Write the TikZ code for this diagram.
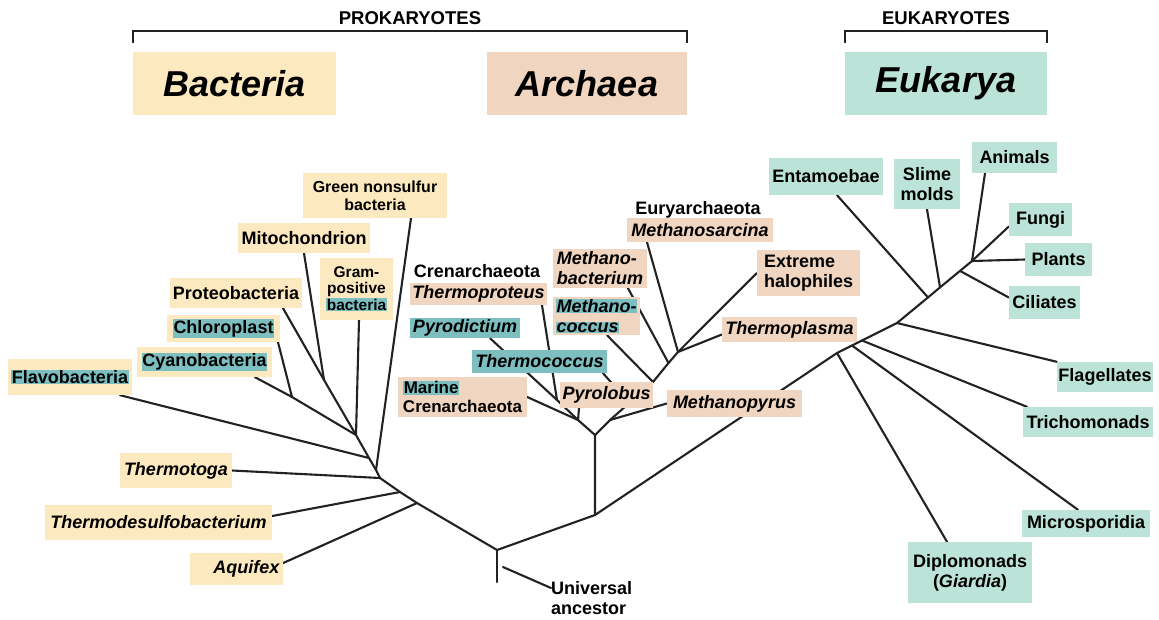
\documentclass[tikz,border=0pt]{standalone}
\usepackage{fontspec}
\setmainfont{Liberation Sans}
\usetikzlibrary{calc}
\definecolor{bacY}{HTML}{FDE9BF}
\definecolor{arcT}{HTML}{F0D5C0}
\definecolor{eukT}{HTML}{BCE3D8}
\definecolor{hlT}{HTML}{7DBFC0}
\definecolor{brc}{HTML}{222222}
\newcommand\hlt[1]{{\setlength{\fboxsep}{0.8pt}\colorbox{hlT}{#1}}}
\pgfdeclarelayer{bg}
\pgfsetlayers{bg,main}
\begin{document}
\begin{tikzpicture}[x=1pt,y=-1pt,
  lbl/.style={font=\bfseries\fontsize{18}{20}\selectfont, inner sep=0pt, align=center, text=black},
  lblit/.style={lbl, font=\bfseries\itshape\fontsize{18}{20}\selectfont},
  small/.style={font=\bfseries\fontsize{16}{18}\selectfont},
  bac/.style={fill=bacY},
  arc/.style={fill=arcT},
  euk/.style={fill=eukT},
  hlbox/.style={fill=hlT},
  bx/.style 2 args={minimum width=#1, minimum height=#2},
  br/.style={draw=brc, line width=2.1pt, line cap=round, line join=round},
  brk/.style={draw=brc, line width=1.6pt},
  head/.style={font=\bfseries\fontsize{18.5}{20}\selectfont, inner sep=0pt},
  title/.style={font=\bfseries\itshape\fontsize{36}{40}\selectfont, inner sep=0pt}
]
\useasboundingbox (0,0) rectangle (1159,619);

% ---------- header ----------
\node[head] (prok) at (410,18) {PROKARYOTES};
\node[head] (eukh) at (946,18) {EUKARYOTES};
\node[title, bac, bx={203}{63}] (tbac) at (234.5,83.5) {Bacteria};
\node[title, arc, bx={200}{63}] (tarc) at (587,83.5) {Archaea};
\node[title, euk, bx={202}{63}] (teuk) at (946,83.5) {Eukarya};
\draw[brk] ($(tbac.north west)+(0,-9)$) -- ++(0,-12) -| ($(tarc.north east)+(0,-9)$);
\draw[brk] ($(teuk.north west)+(0,-9)$) -- ++(0,-12) -| ($(teuk.north east)+(0,-9)$);

% ---------- bacteria ----------
\node[lbl, small, bac, bx={144}{45}] (gns) at (375,195.5) {Green nonsulfur\\bacteria};
\node[lbl, bac, bx={132}{30}] (mito) at (304,238) {Mitochondrion};
\node[lbl, font=\bfseries\fontsize{15.5}{16.5}\selectfont, bac, bx={73}{62}] (gram) at (356.5,289) {Gram-\\positive\\\hlt{bacteria}};
\node[lbl, bac, bx={132}{30}] (proteo) at (236,293) {Proteobacteria};
\node[lbl, bac, bx={113}{27}] (chloro) at (223.5,328.5) {\hlt{Chloroplast}};
\node[lbl, bac, bx={135}{30}] (cyano) at (204.5,362) {\hlt{Cyanobacteria}};
\node[lbl, bac, bx={124}{36}] (flavo) at (70,377) {\hlt{Flavobacteria}};
\node[lblit, bac, bx={112}{35}] (tmtoga) at (176,470.5) {Thermotoga};
\node[lblit, bac, bx={227}{35}] (tdesulfo) at (158.5,522.5) {Thermodesulfobacterium};
\node[lblit, bac, bx={93}{32}, text width=86, align=right] (aquifex) at (236.5,569) {Aquifex};

% ---------- archaea ----------
\node[lbl] (eury) at (698,210) {Euryarchaeota};
\node[lblit, arc, bx={146}{24}] (msarc) at (700,230) {Methanosarcina};
\node[lblit, arc, bx={94}{39}, align=left] (mbact) at (600,268.5) {Methano-\\bacterium};
\node[lblit, arc, bx={87}{38}, align=left] (mcoc) at (596.5,316) {\hlt{Methano-}\\\hlt{coccus}};
\node[lbl, arc, bx={103}{46}, align=left] (halo) at (808.5,273) {Extreme\\halophiles};
\node[lblit, arc, bx={135}{25}] (tplasma) at (789.5,329.5) {Thermoplasma};
\node[lblit, arc, bx={135}{27}] (mpyrus) at (734.5,403.5) {Methanopyrus};
\node[lblit, arc, bx={93}{26}] (pyrolobus) at (606.5,395) {Pyrolobus};
\node[lblit, hlbox, bx={135}{23}] (tcoccus) at (539.5,361.5) {Thermococcus};
\node[lbl, font=\bfseries\fontsize{17}{19}\selectfont, arc, bx={129}{40}, align=left] (marine) at (462.5,397) {\hlt{Marine}\\Crenarchaeota};
\node[lbl] (cren) at (477,271) {Crenarchaeota};
\node[lblit, arc, bx={137}{22}] (tproteus) at (478.5,294) {Thermoproteus};
\node[lblit, hlbox, bx={110}{20}] (pyrod) at (465,328) {Pyrodictium};

% ---------- eukarya ----------
\node[lbl, euk, bx={114}{37}] (entam) at (826,176.5) {Entamoebae};
\node[lbl, euk, bx={66}{50}] (slime) at (927,184) {Slime\\molds};
\node[lbl, euk, bx={85}{31}] (animals) at (1014.5,157.5) {Animals};
\node[lbl, euk, bx={63}{33}] (fungi) at (1040.5,219.5) {Fungi};
\node[lbl, euk, bx={67}{33}] (plants) at (1058.5,259.5) {Plants};
\node[lbl, euk, bx={71}{33}] (ciliates) at (1044.5,302.5) {Ciliates};
\node[lbl, euk, bx={96}{30}] (flag) at (1105,377) {Flagellates};
\node[lbl, euk, bx={130}{30}] (trich) at (1088,422) {Trichomonads};
\node[lbl, euk, bx={128}{27}] (micro) at (1086,523.5) {Microsporidia};
\node[lbl, euk, bx={124}{61}] (diplo) at (970,572.5) {Diplomonads\\(\textit{Giardia})};

% ---------- root ----------
\node[lbl, align=left, anchor=west] (ua) at (551,598) {Universal\\ancestor};

% ---------- junctions ----------
\coordinate (R) at (497,550);
\coordinate (R2) at (497,582);
\coordinate (uas) at (503,567);
% bacteria
\coordinate (K1) at (324,380);
\coordinate (K2) at (292,397);
\coordinate (A) at (356,435);
\coordinate (B) at (369,458);
\coordinate (C) at (376,470);
\coordinate (D) at (380,478);
\coordinate (E) at (400,492);
\coordinate (F) at (417,503);
% archaea
\coordinate (S) at (595,515);
\coordinate (G) at (595,435);
\coordinate (H) at (578,420);
\coordinate (I) at (610,420);
\coordinate (J) at (557,400);
\coordinate (N) at (653,382);
\coordinate (M) at (668.5,363);
\coordinate (L) at (678,352);
\coordinate (T) at ($(I)!0.45!(N)$);
% eukarya
\coordinate (P1) at (837,353);
\coordinate (P2) at (852,345.5);
\coordinate (P3) at (862,340.5);
\coordinate (P4) at (897,323);
\coordinate (P5) at (928,297.4);
\coordinate (P6) at (940,287.4);
\coordinate (P7) at (960,270.9);
\coordinate (P8) at (972,261);

\begin{pgfonlayer}{bg}
% root
\draw[br] (R) -- (R2);
\draw[br] (uas) -- ([yshift=10pt]ua.west);
% bacteria
\draw[br] (R) -- (F) -- (E) -- (D) -- (C) -- (B) -- (A);
\draw[br] ([xshift=36pt]gns.south) -- (C);
\draw[br] (mito.south) -- (K1);
\draw[br] ([xshift=47pt]proteo.south) -- (K1) -- (A);
\draw[br] ([xshift=54.5pt]chloro.south) -- (K2);
\draw[br] ([xshift=50.5pt]cyano.south) -- (K2) -- (A);
\draw[br] ([xshift=2.5pt]gram.south) -- (A);
\draw[br] ([xshift=50pt]flavo.south) -- (B);
\draw[br] (tmtoga.east) -- (D);
\draw[br] ([yshift=6.5pt]tdesulfo.east) -- (E);
\draw[br] ([yshift=6pt]aquifex.east) -- (F);
% archaea
\draw[br] (R) -- (S) -- (G);
\draw[br] (H) -- (G) -- (I);
\draw[br] (marine.east) -- (H);
\draw[br] ([xshift=-27.5pt]pyrolobus.south) -- (H);
\draw[br] (J) -- (H);
\draw[br] ([xshift=25pt]pyrod.south) -- (J);
\draw[br] ([xshift=63.5pt]tproteus.south) -- (J);
\draw[br] (mpyrus.west) -- (I);
\draw[br] (I) -- (T) -- (N) -- (M) -- (L);
\draw[br] ([xshift=63.5pt]tcoccus.south) -- (T);
\draw[br] ([xshift=10.5pt]mcoc.south) -- (N);
\draw[br] ([xshift=28pt]mbact.south) -- (M);
\draw[br] ([xshift=-53pt]msarc.south) -- (L);
\draw[br] (halo.west) -- (L);
\draw[br] ([yshift=-5pt]tplasma.west) -- (L);
% eukarya
\draw[br] (S) -- (P1) -- (P2) -- (P3) -- (P4) -- (P5) -- (P6) -- (P7) -- (P8);
\draw[br] (P1) -- ([xshift=-23pt]diplo.north);
\draw[br] (P2) -- ([xshift=-8pt]micro.north);
\draw[br] (P3) -- ([xshift=-61pt]trich.north);
\draw[br] (P4) -- (flag.north west);
\draw[br] (P5) -- ([xshift=11pt]entam.south);
\draw[br] (P6) -- (slime.south);
\draw[br] (P7) -- ([yshift=5pt]ciliates.west);
\draw[br] (P8) -- (plants.west);
\draw[br] (P8) -- ([yshift=-7pt]fungi.west);
\draw[br] (P8) -- ([xshift=-29.5pt]animals.south);
\end{pgfonlayer}
\end{tikzpicture}
\end{document}
